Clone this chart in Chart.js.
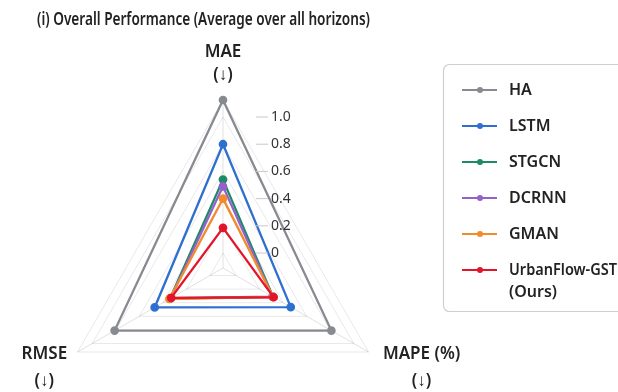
<!DOCTYPE html>
<html>
<head>
<meta charset="utf-8">
<script src="https://cdn.jsdelivr.net/npm/chart.js@4/dist/chart.umd.min.js"></script>
<style>
html, body { margin: 0; padding: 0; background: #fff; }
#wrap { width: 618px; height: 392px; }
</style>
</head>
<body>
<div id="wrap"><canvas id="radarChart"></canvas></div>
<script>
// axes of the radar (clockwise from the top), each label is two lines
const axes = [["MAE", "(↓)"], ["MAPE (%)", "(↓)"], ["RMSE", "(↓)"]];
const tickValues = [0, 0.2, 0.4, 0.6, 0.8, 1.0];
const titleText = "(i) Overall Performance (Average over all horizons)";

const models = ["HA", "LSTM", "STGCN", "DCRNN", "GMAN", "UrbanFlow-GST"];
// values in axis order: MAE, MAPE, RMSE
const haScores = [1.125, 0.81, 0.81];
const lstmScores = [0.80, 0.465, 0.47];
const stgcnScores = [0.54, 0.315, 0.34];
const dcrnnScores = [0.49, 0.31, 0.335];
const gmanScores = [0.40, 0.315, 0.345];
const oursScores = [0.185, 0.32, 0.33];

const colors = ["#878a90", "#2f6fcf", "#1d8a68", "#9461c9", "#f28a2e", "#e3152b"];

const FONT = "'Noto Sans', 'Open Sans', sans-serif";

function makeDataset(label, data, color, order) {
    return {
        label: label,
        data: data,
        borderColor: color,
        backgroundColor: color,
        pointBackgroundColor: color,
        pointBorderColor: color,
        borderWidth: 2.3,
        pointRadius: 3.2,
        fill: false,
        order: order
    };
}

let allScores = [haScores, lstmScores, stgcnScores, dcrnnScores, gmanScores, oursScores];
let datasets = [];
for (let i = 0; i < models.length; i++) {
    datasets.push(makeDataset(models[i], allScores[i], colors[i], models.length - i));
}

// draws text squeezed horizontally when it is wider than maxW
function fitText(ctx, text, x, y, maxW) {
    let w = ctx.measureText(text).width;
    ctx.save();
    ctx.translate(x, y);
    if (w > maxW) ctx.scale(maxW / w, 1);
    ctx.fillText(text, 0, 0);
    ctx.restore();
}

// title, axis labels, tick labels and the boxed legend
const decorations = {
    id: "decorations",
    afterDatasetsDraw(chart) {
        const ctx = chart.ctx;
        const scale = chart.scales.r;
        ctx.save();

        // title, a bit condensed
        ctx.font = "600 18px " + FONT;
        ctx.fillStyle = "#222";
        ctx.textAlign = "left";
        ctx.textBaseline = "middle";
        fitText(ctx, titleText, 37, 20, 333);

        // tick labels in a column right of the top axis
        ctx.font = "14px " + FONT;
        ctx.textAlign = "left";
        ctx.textBaseline = "middle";
        for (let v of tickValues) {
            let y = scale.yCenter - scale.getDistanceFromCenterForValue(v);
            ctx.strokeStyle = "#c8c8c8";
            ctx.lineWidth = 1;
            ctx.beginPath();
            ctx.moveTo(scale.xCenter + 33, y);
            ctx.lineTo(scale.xCenter + 45, y);
            ctx.stroke();
            ctx.fillStyle = "#333";
            ctx.fillText(v === 0 ? "0" : v.toFixed(1), scale.xCenter + 48, y);
        }

        // axis names
        ctx.font = "600 17px " + FONT;
        ctx.fillStyle = "#222";
        ctx.textAlign = "center";
        ctx.textBaseline = "middle";
        for (let i = 0; i < axes.length; i++) {
            let p = scale.getPointPosition(i, scale.drawingArea + 12);
            let lines = axes[i];
            let w = Math.max(...lines.map(t => ctx.measureText(t).width));
            let cx, y0, step;
            if (i === 0) {
                cx = p.x;
                y0 = p.y - 36;
                step = 23;
            } else if (p.x < scale.xCenter) {
                cx = p.x - w / 2;
                y0 = p.y - 4;
                step = 27;
            } else {
                cx = p.x + 4 + w / 2;
                y0 = p.y - 4;
                step = 27;
            }
            lines.forEach((t, k) => ctx.fillText(t, cx, y0 + step * k));
        }

        // legend box
        const bx = 443, by = 64, bw = 190, bh = 247;
        ctx.strokeStyle = "#cfcfcf";
        ctx.lineWidth = 1.2;
        ctx.beginPath();
        ctx.roundRect(bx + 0.5, by + 0.5, bw, bh, 6);
        ctx.stroke();

        ctx.font = "600 16px " + FONT;
        ctx.textAlign = "left";
        ctx.textBaseline = "middle";
        chart.data.datasets.forEach((ds, i) => {
            let y = 90 + i * 36;
            ctx.strokeStyle = ds.borderColor;
            ctx.lineWidth = 2.2;
            ctx.beginPath();
            ctx.moveTo(462, y);
            ctx.lineTo(497, y);
            ctx.stroke();
            ctx.fillStyle = ds.borderColor;
            ctx.beginPath();
            ctx.arc(480, y, 3, 0, Math.PI * 2);
            ctx.fill();
            ctx.fillStyle = "#222";
            fitText(ctx, ds.label, 509, y, 108);
            if (i === models.length - 1) {
                ctx.fillText("(Ours)", 509, y + 22);
            }
        });
        ctx.restore();
    }
};

let ctx = document.getElementById("radarChart").getContext("2d");
new Chart(ctx, {
    type: "radar",
    data: {
        labels: axes.map(a => a.join(" ")),
        datasets: datasets
    },
    options: {
        responsive: true,
        maintainAspectRatio: false,
        animation: false,
        plugins: {
            legend: { display: false },
            tooltip: { enabled: false },
            title: { display: false }
        },
        scales: {
            r: {
                min: -0.11,
                max: 1.125,
                ticks: { display: false, stepSize: 0.2 },
                grid: { color: "rgba(0,0,0,0.09)", lineWidth: 1 },
                angleLines: { color: "rgba(0,0,0,0.12)", lineWidth: 1 },
                pointLabels: { display: false },
                afterFit: function (scale) {
                    scale.xCenter = 223;
                    scale.yCenter = 268;
                    scale.drawingArea = 168;
                }
            }
        }
    },
    plugins: [decorations]
});
</script>
</body>
</html>
